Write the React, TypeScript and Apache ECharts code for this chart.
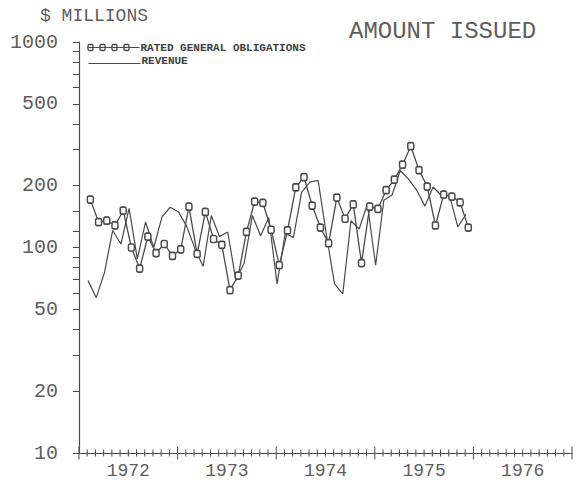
import React, { useEffect, useRef } from "react";
import * as echarts from "echarts";

// Monthly observations, Feb 1972 – Dec 1975
const months = [
  "1972-02", "1972-03", "1972-04", "1972-05", "1972-06", "1972-07", "1972-08", "1972-09", "1972-10", "1972-11", "1972-12",
  "1973-01", "1973-02", "1973-03", "1973-04", "1973-05", "1973-06", "1973-07", "1973-08", "1973-09", "1973-10", "1973-11", "1973-12",
  "1974-01", "1974-02", "1974-03", "1974-04", "1974-05", "1974-06", "1974-07", "1974-08", "1974-09", "1974-10", "1974-11", "1974-12",
  "1975-01", "1975-02", "1975-03", "1975-04", "1975-05", "1975-06", "1975-07", "1975-08", "1975-09", "1975-10", "1975-11", "1975-12",
];

// $ millions
const ratedGeneralObligations = [
  171, 133, 135, 128, 151, 100, 79, 113, 94, 104, 91,
  98, 158, 93, 149, 110, 103, 62, 73, 119, 167, 165, 122,
  82, 121, 196, 220, 160, 125, 105, 175, 138, 162, 84, 158,
  154, 190, 214, 253, 311, 238, 198, 128, 181, 177, 166, 125,
];

const revenue = [
  69, 57, 75.5, 121, 104, 155, 88, 133, 100, 141, 157,
  149, 127, 99, 81, 143, 113, 119, 69, 84, 143, 114, 140,
  66.5, 117, 112, 186, 208, 212, 116, 66.5, 59.5, 135, 123, 163,
  82, 170, 180, 237, 215, 190, 159, 197, 179, 179, 126, 145,
];

const yearLabels = ["1972", "1973", "1974", "1975", "1976"];
const yLabelValues = [10, 20, 50, 100, 200, 500, 1000];
const yTickValues = [10, 20, 30, 40, 50, 60, 70, 80, 90, 100, 120, 150, 200, 300, 400, 500, 600, 700, 800, 900, 1000];

const LINE = "#4a4a4a";
const TEXT = "#5e5e5e";
const MONO = "'Liberation Mono', 'DejaVu Sans Mono', monospace";

const toX = (m: string, offset: number) => {
  const [y, mo] = m.split("-").map(Number);
  return y + (mo - 1 + offset) / 12;
};

export default function App() {
  const ref = useRef<HTMLDivElement>(null);

  useEffect(() => {
    if (!ref.current) return;
    const chart = echarts.init(ref.current, undefined, { renderer: "svg" });

    const goData = months.map((m, i) => [toX(m, 0.38), ratedGeneralObligations[i]]);
    const revData = months.map((m, i) => [toX(m, 0.1), revenue[i]]);

    // month boundaries along the time axis (1972.0 .. 1977.0)
    const monthTicks: number[][] = [];
    for (let i = 0; i <= 60; i++) monthTicks.push([1972 + i / 12, 10, i % 12 === 0 ? 1 : 0]);

    const option: any = {
      animation: false,
      backgroundColor: "#ffffff",
      grid: { left: 79, right: 4, top: 42, bottom: 31, containLabel: false },
      xAxis: {
        type: "value",
        min: 1972,
        max: 1977,
        position: "bottom",
        splitLine: { show: false },
        minorTick: { show: false },
        axisLine: { show: true, onZero: false, lineStyle: { color: LINE, width: 1.2 } },
        axisTick: { show: false },
        axisLabel: {
          customValues: yearLabels.map((y) => Number(y) + 0.5),
          formatter: (v: number) => String(Math.floor(v)),
          fontFamily: MONO,
          fontSize: 18,
          color: TEXT,
          margin: 9,
        },
      },
      yAxis: {
        type: "log",
        logBase: 10,
        min: 10,
        max: 1000,
        axisLine: { show: true, onZero: false, lineStyle: { color: LINE, width: 1.2 } },
        axisTick: { show: true, length: 6, customValues: yTickValues, lineStyle: { color: LINE, width: 1 } },
        splitLine: { show: false },
        minorTick: { show: false },
        axisLabel: {
          customValues: yLabelValues,
          formatter: (v: number) => String(Math.round(v)),
          fontFamily: MONO,
          fontSize: 20,
          color: TEXT,
          margin: 21,
        },
      },
      series: [
        {
          name: "axis ticks",
          type: "custom",
          data: monthTicks,
          clip: false,
          silent: true,
          z: 1,
          renderItem: (params: any, api: any) => {
            const p = api.coord([api.value(0), api.value(1)]);
            const h = api.value(2) === 1 ? 6.5 : 3.5;
            return {
              type: "line",
              shape: { x1: p[0], y1: p[1] - h, x2: p[0], y2: p[1] + h },
              style: { stroke: LINE, lineWidth: 1 },
            };
          },
        },
        {
          name: "RATED GENERAL OBLIGATIONS",
          type: "line",
          data: goData,
          symbol: "roundRect",
          symbolSize: [6, 7],
          showSymbol: true,
          itemStyle: { color: "#ffffff", borderColor: LINE, borderWidth: 1.6 },
          lineStyle: { color: LINE, width: 1.3 },
          z: 3,
        },
        {
          name: "REVENUE",
          type: "line",
          data: revData,
          symbol: "none",
          lineStyle: { color: LINE, width: 1.2 },
          z: 2,
        },
      ],
      graphic: [
        {
          type: "text",
          left: 40,
          top: 7,
          style: { text: "$ MILLIONS", font: `18px ${MONO}`, fill: TEXT },
        },
        {
          type: "text",
          left: 349,
          top: 19,
          style: { text: "AMOUNT ISSUED", font: `24px ${MONO}`, fill: TEXT },
        },
        {
          type: "group",
          left: 85,
          top: 42,
          children: [
            ...[3, 15, 27, 39].map((cx) => ({
              type: "rect",
              shape: { x: cx - 2.5, y: 2, width: 5, height: 6, r: 1.2 },
              style: { fill: "#ffffff", stroke: LINE, lineWidth: 1.3 },
            })),
            { type: "line", shape: { x1: 0, y1: 5, x2: 52, y2: 5 }, style: { stroke: LINE, lineWidth: 1.2 } },
            {
              type: "text",
              x: 53,
              y: 5,
              style: {
                text: "RATED GENERAL OBLIGATIONS",
                font: `bold 11px ${MONO}`,
                fill: "#404040",
                verticalAlign: "middle",
              },
            },
            { type: "line", shape: { x1: 1, y1: 21, x2: 53, y2: 21 }, style: { stroke: LINE, lineWidth: 1.1 } },
            {
              type: "text",
              x: 54,
              y: 18,
              style: { text: "REVENUE", font: `bold 11px ${MONO}`, fill: "#404040", verticalAlign: "middle" },
            },
          ],
        },
      ],
    };

    chart.setOption(option);
    return () => chart.dispose();
  }, []);

  return <div ref={ref} style={{ width: 576, height: 484, position: "fixed", left: 0, top: 0 }} />;
}
